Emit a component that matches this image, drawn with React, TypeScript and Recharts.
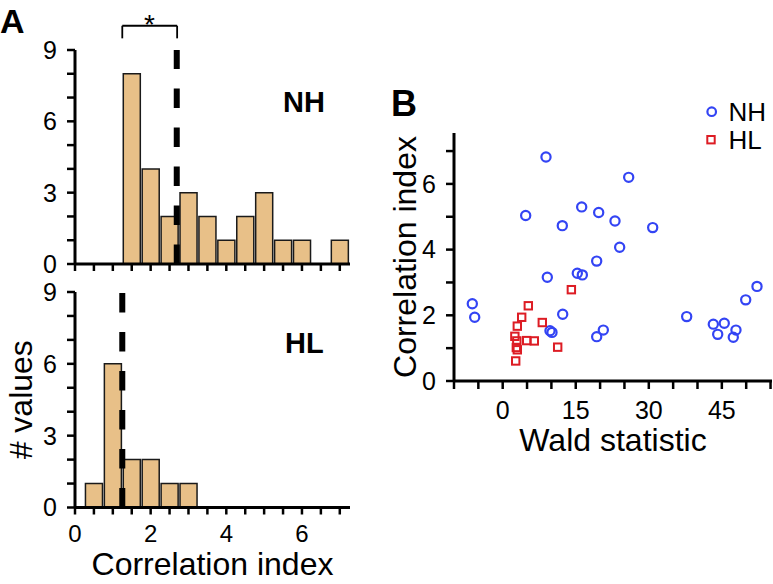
import React from 'react';
import {
  BarChart,
  Bar,
  XAxis,
  YAxis,
  ReferenceLine,
  ScatterChart,
  Scatter,
  Legend,
} from 'recharts';

// ---------------- DATA ----------------
// Panel A histograms (bin centres, bin width 0.5)
const nhBinCenters = [1.5, 2, 2.5, 3, 3.5, 4, 4.5, 5, 5.5, 6, 6.5, 7];
const nhCounts = [8, 4, 2, 3, 2, 1, 2, 3, 1, 1, 0, 1];
const hlBinCenters = [0.5, 1, 1.5, 2, 2.5, 3];
const hlCounts = [1, 6, 2, 2, 1, 1];
const nhMedian = 2.69;
const hlMedian = 1.25;
const bracketStart = 1.25;
const bracketEnd = 2.7;

const histXTicks = [0, 0.5, 1, 1.5, 2, 2.5, 3, 3.5, 4, 4.5, 5, 5.5, 6, 6.5, 7];
const histXLabels = [0, 2, 4, 6];
const histYTicks = [0, 1, 2, 3, 4, 5, 6, 7, 8, 9];
const histYLabels = [0, 3, 6, 9];

// Panel B scatter
const nhWald = [
  -6.24, -5.75, 8.89, 4.72, 12.24, 16.22, 19.71, 23.06, 25.87, 30.8, 24.02, 19.3, 15.32, 16.35,
  9.16, 12.32, 9.71, 10.12, 19.3, 20.66, 37.78, 43.25, 44.15, 45.5, 47.9, 47.35, 49.9, 52.22,
];
const nhCorr = [
  2.35, 1.94, 6.82, 5.04, 4.73, 5.3, 5.13, 4.87, 6.2, 4.67, 4.07, 3.65, 3.28, 3.23, 3.16, 2.03,
  1.53, 1.48, 1.35, 1.55, 1.96, 1.73, 1.42, 1.76, 1.55, 1.33, 2.47, 2.88,
];
const hlWald = [5.26, 14.1, 3.9, 8.13, 3.0, 2.5, 2.9, 4.93, 6.49, 2.8, 3.0, 11.29, 2.67];
const hlCorr = [2.29, 2.78, 1.94, 1.78, 1.67, 1.36, 1.22, 1.23, 1.22, 1.02, 0.95, 1.03, 0.61];

const scatterXTicks = [-10, -5, 0, 5, 10, 15, 20, 25, 30, 35, 40, 45, 50, 55];
const scatterXLabels = [0, 15, 30, 45];
const scatterYTicks = [0, 1, 2, 3, 4, 5, 6, 7];
const scatterYLabels = [0, 2, 4, 6];

const seriesNames = ['NH', 'HL'];

// ---------------- STYLE / LAYOUT ----------------
const W = 773;
const H = 584;
const FONT = '"Liberation Sans", Arial, Helvetica, sans-serif';
const BAR_FILL = '#E8C088';
const NH_COLOR = '#3344F4';
const HL_COLOR = '#DD1C24';

const histLeft = 75;
const histRight = 350;
const histXMax = 7.27;
const binWidth = 0.5;
const barPx = (binWidth * (histRight - histLeft)) / histXMax;
const axisW = 60;
const xAxisH = 30;

const nhHist = nhBinCenters.map((c, i) => ({ x: c, count: nhCounts[i] }));
const hlHist = hlBinCenters.map((c, i) => ({ x: c, count: hlCounts[i] }));
const nhPoints = nhWald.map((w, i) => ({ wald: w, corr: nhCorr[i] }));
const hlPoints = hlWald.map((w, i) => ({ wald: w, corr: hlCorr[i] }));

const axisLine = { stroke: '#000', strokeWidth: 3 };
const tickLine = { stroke: '#000', strokeWidth: 2.5 };
const tickStyle = { fill: '#000', fontSize: 25, fontFamily: FONT };
const histXTickStyle = { fill: '#000', fontSize: 24, fontFamily: FONT };

const fmt = (labels: number[]) => (v: number) =>
  labels.some((l) => Math.abs(l - v) < 1e-9) ? String(v) : '';

const CircleShape = (p: any) => (
  <circle cx={p.cx} cy={p.cy} r={4.6} fill="none" stroke={NH_COLOR} strokeWidth={2.2} />
);
const SquareShape = (p: any) => (
  <rect
    x={p.cx - 3.7}
    y={p.cy - 3.7}
    width={7.4}
    height={7.4}
    fill="none"
    stroke={HL_COLOR}
    strokeWidth={2}
  />
);

const LegendContent = () => (
  <svg width={73} height={60} style={{ display: 'block' }}>
    <circle cx={11.7} cy={15.7} r={4.3} fill="none" stroke={NH_COLOR} strokeWidth={2.2} />
    <text x={28.5} y={24.5} fontSize={26} fontFamily={FONT} fill="#000">
      {seriesNames[0]}
    </text>
    <rect x={7.3} y={40} width={7.4} height={7.4} fill="none" stroke={HL_COLOR} strokeWidth={2} />
    <text x={28.5} y={52.5} fontSize={26} fontFamily={FONT} fill="#000">
      {seriesNames[1]}
    </text>
  </svg>
);

function Histogram(props: {
  data: { x: number; count: number }[];
  median: number;
  top: number;
  bottom: number;
  showXLabels: boolean;
  showYTitle: boolean;
  bracket?: boolean;
}) {
  const { data, median, top, bottom, showXLabels, showYTitle, bracket } = props;
  return (
    <BarChart
      width={W}
      height={H}
      data={data}
      margin={{ top, left: histLeft - axisW, right: W - histRight, bottom: H - bottom - xAxisH }}
      barCategoryGap={0}
      barGap={0}
    >
      <XAxis
        type="number"
        dataKey="x"
        domain={[0, histXMax]}
        ticks={histXTicks}
        interval={0}
        height={xAxisH}
        axisLine={axisLine}
        tickLine={tickLine}
        tickSize={7}
        tickMargin={10}
        tick={histXTickStyle}
        tickFormatter={showXLabels ? fmt(histXLabels) : () => ''}
        allowDataOverflow
        label={
          showXLabels
            ? {
                value: 'Correlation index',
                position: 'bottom',
                offset: 15,
                style: { fontSize: 32, fontFamily: FONT, fill: '#000', textAnchor: 'middle' },
              }
            : undefined
        }
      />
      <YAxis
        type="number"
        domain={[0, 9]}
        ticks={histYTicks}
        interval={0}
        width={axisW}
        axisLine={axisLine}
        tickLine={tickLine}
        tickSize={8}
        tickMargin={10}
        tick={tickStyle}
        tickFormatter={fmt(histYLabels)}
        label={
          showYTitle
            ? {
                value: '# values',
                angle: -90,
                position: 'center',
                dx: -24,
                style: { fontSize: 32, fontFamily: FONT, fill: '#000', textAnchor: 'middle' },
              }
            : undefined
        }
      />
      <Bar
        dataKey="count"
        fill={BAR_FILL}
        stroke="#1a1a1a"
        strokeWidth={1.5}
        barSize={barPx}
        isAnimationActive={false}
      />
      <ReferenceLine
        x={median}
        stroke="#000"
        strokeWidth={6}
        strokeDasharray="19.5 19.5"
        ifOverflow="visible"
      />
      {bracket && (
        <ReferenceLine
          segment={[
            { x: bracketStart, y: 10.02 },
            { x: bracketEnd, y: 10.02 },
          ]}
          stroke="#000"
          strokeWidth={1.8}
          ifOverflow="visible"
        />
      )}
      {bracket && (
        <ReferenceLine
          segment={[
            { x: bracketStart, y: 10.02 },
            { x: bracketStart, y: 9.49 },
          ]}
          stroke="#000"
          strokeWidth={1.8}
          ifOverflow="visible"
        />
      )}
      {bracket && (
        <ReferenceLine
          segment={[
            { x: bracketEnd, y: 10.02 },
            { x: bracketEnd, y: 9.49 },
          ]}
          stroke="#000"
          strokeWidth={1.8}
          ifOverflow="visible"
        />
      )}
    </BarChart>
  );
}

export default function App() {
  const layer: React.CSSProperties = { position: 'absolute', left: 0, top: 0 };
  return (
    <div
      style={{
        position: 'absolute',
        left: 0,
        top: 0,
        width: W,
        height: H,
        background: '#fff',
        fontFamily: FONT,
        overflow: 'hidden',
      }}
    >
      <div style={layer}>
        <Histogram
          data={nhHist}
          median={nhMedian}
          top={50}
          bottom={264}
          showXLabels={false}
          showYTitle={false}
          bracket
        />
      </div>
      <div style={layer}>
        <Histogram
          data={hlHist}
          median={hlMedian}
          top={292}
          bottom={507.5}
          showXLabels
          showYTitle
        />
      </div>
      <div style={layer}>
        <ScatterChart
          width={W}
          height={H}
          margin={{ top: 133, left: 454 - axisW, right: 1, bottom: H - 381 - xAxisH }}
        >
          <XAxis
            type="number"
            dataKey="wald"
            domain={[-10, 55.3]}
            ticks={scatterXTicks}
            interval={0}
            height={xAxisH}
            axisLine={axisLine}
            tickLine={tickLine}
            tickSize={8}
            tickMargin={12}
            tick={tickStyle}
            tickFormatter={fmt(scatterXLabels)}
            allowDataOverflow
            label={{
              value: 'Wald statistic',
              position: 'bottom',
              offset: 17,
              style: { fontSize: 32, fontFamily: FONT, fill: '#000', textAnchor: 'middle' },
            }}
          />
          <YAxis
            type="number"
            dataKey="corr"
            domain={[0, 7.55]}
            ticks={scatterYTicks}
            interval={0}
            width={axisW}
            axisLine={axisLine}
            tickLine={tickLine}
            tickSize={8}
            tickMargin={10}
            tick={tickStyle}
            tickFormatter={fmt(scatterYLabels)}
            allowDataOverflow
            label={{
              value: 'Correlation index',
              angle: -90,
              position: 'center',
              dx: -19,
              style: { fontSize: 32, fontFamily: FONT, fill: '#000', textAnchor: 'middle' },
            }}
          />
          <Legend
            layout="vertical"
            align="center"
            verticalAlign="middle"
            content={<LegendContent />}
            wrapperStyle={{ position: 'absolute', left: 700, top: 96, width: 73, height: 60 }}
          />
          <Scatter
            name={seriesNames[0]}
            data={nhPoints}
            shape={CircleShape}
            isAnimationActive={false}
          />
          <Scatter
            name={seriesNames[1]}
            data={hlPoints}
            shape={SquareShape}
            isAnimationActive={false}
          />
        </ScatterChart>
      </div>
      <svg
        width={W}
        height={H}
        style={{ position: 'absolute', left: 0, top: 0, pointerEvents: 'none' }}
      >
        <text x={0} y={33} fontSize={34} fontWeight="bold" fontFamily={FONT} fill="#000">
          A
        </text>
        <text x={391} y={116} fontSize={36} fontWeight="bold" fontFamily={FONT} fill="#000">
          B
        </text>
        <text x={149.5} y={33.5} fontSize={28} fontFamily={FONT} fill="#000" textAnchor="middle">
          *
        </text>
        <text x={283} y={111.7} fontSize={29} fontWeight="bold" fontFamily={FONT} fill="#000">
          {seriesNames[0]}
        </text>
        <text x={285} y={353} fontSize={29} fontWeight="bold" fontFamily={FONT} fill="#000">
          {seriesNames[1]}
        </text>
      </svg>
    </div>
  );
}
